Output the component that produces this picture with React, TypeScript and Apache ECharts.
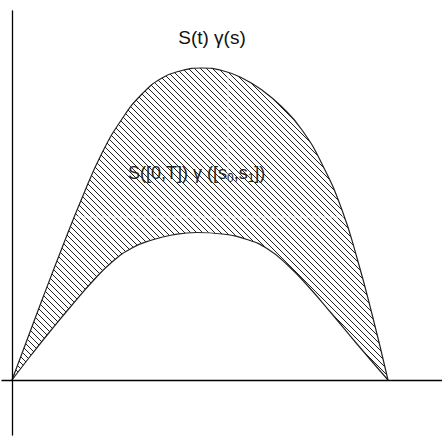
import React, { useEffect, useRef } from "react";
import * as echarts from "echarts";

// Curves (x measured from the origin to the right, y measured upward from the x-axis)
const upperX = [0, 15, 30, 50, 70, 90, 110, 130, 150, 170, 190, 210, 230, 250, 270, 290, 310, 330, 345, 360, 376];
const upperY = [0, 40, 80, 132, 182, 227, 261, 286, 302, 309.5, 312, 309.5, 302, 290, 273, 250, 216, 170, 122, 66, 0];
const lowerX = [0, 20, 40, 60, 80, 100, 120, 140, 160, 185, 210, 235, 255, 275, 295, 320, 345, 376];
const lowerY = [0, 26, 51, 75, 98, 118, 132, 140, 145, 147.5, 146, 140.5, 131.5, 115.5, 95, 66, 36, 0];

const topLabel = "S(t) γ(s)";
const regionLabel = "{n|S([0,T]) γ ([s}{sub|0}{n|,s}{sub|1}{n|])}";

const hatchSvg =
  "<svg xmlns='http://www.w3.org/2000/svg' width='6' height='6'>" +
  "<path d='M-1,-1 L7,7 M-1,5 L1,7 M5,-1 L7,1' stroke='#222' stroke-width='1' fill='none'/></svg>";
const hatchUrl = "data:image/svg+xml;charset=utf-8," + encodeURIComponent(hatchSvg);

export default function App() {
  const ref = useRef<HTMLDivElement>(null);
  useEffect(() => {
    document.body.style.margin = "0";
    const chart = echarts.init(ref.current!, null, { renderer: "svg" });
    const upper = upperX.map((x, i) => [x, upperY[i]]);
    const lower = lowerX.map((x, i) => [x, lowerY[i]]);
    const curve = (data: number[][], z: number, extra: any) => ({
      type: "line",
      data,
      smooth: 0.5,
      showSymbol: false,
      silent: true,
      z,
      ...extra,
    });
    chart.setOption({
      animation: false,
      backgroundColor: "#fff",
      grid: { left: 2, right: 0, top: 11, bottom: 10 },
      xAxis: {
        type: "value",
        min: -10,
        max: 430,
        z: 10,
        axisLine: { onZero: true, lineStyle: { color: "#000", width: 1.3 } },
        axisTick: { show: false },
        axisLabel: { show: false },
        splitLine: { show: false },
      },
      yAxis: {
        type: "value",
        min: -55,
        max: 369,
        z: 10,
        axisLine: { onZero: true, lineStyle: { color: "#000", width: 1.3 } },
        axisTick: { show: false },
        axisLabel: { show: false },
        splitLine: { show: false },
      },
      graphic: [
        { type: "line", z: 3, shape: { x1: 228, y1: 60, x2: 228, y2: 180 }, style: { stroke: "#fff", lineWidth: 1 } },
        { type: "line", z: 3, shape: { x1: 40, y1: 217, x2: 370, y2: 217 }, style: { stroke: "#fff", lineWidth: 1 } },
        {
          type: "text",
          z: 20,
          x: 212,
          y: 37,
          style: { text: topLabel, font: "19px 'Liberation Sans', Arial, sans-serif", fill: "#111", align: "center", verticalAlign: "middle" },
        },
        {
          type: "text",
          z: 20,
          x: 128,
          y: 162,
          style: {
            text: regionLabel,
            fill: "#222",
            rich: {
              n: { fontFamily: "'Liberation Sans', Arial, sans-serif", fontSize: 18, color: "#222", lineHeight: 22 },
              sub: { fontFamily: "'Liberation Sans', Arial, sans-serif", fontSize: 12, color: "#222", lineHeight: 22, padding: [10, 0, 0, 0] },
            },
          },
        },
      ],
      series: [
        curve(upper, 1, {
          lineStyle: { width: 0 },
          areaStyle: { color: { image: hatchUrl, repeat: "repeat", imageWidth: 6, imageHeight: 6 }, opacity: 1 },
        }),
        curve(lower, 2, { lineStyle: { width: 0 }, areaStyle: { color: "#fff", opacity: 1 } }),
        curve(upper, 5, { lineStyle: { color: "#222", width: 1.2 } }),
        curve(lower, 5, { lineStyle: { color: "#222", width: 1.2 } }),
      ],
    });
    return () => chart.dispose();
  }, []);
  return <div ref={ref} style={{ position: "fixed", left: 0, top: 0, width: 442, height: 445 }} />;
}
